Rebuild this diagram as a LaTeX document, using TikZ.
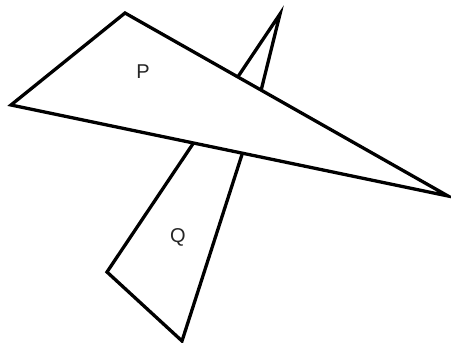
\documentclass[tikz,border=0pt]{standalone}
\usepackage{fontspec}
\setmainfont{Liberation Sans}
\usepackage{tikz}
\begin{document}
\begin{tikzpicture}[x=1pt,y=-1pt,every node/.style={font=\fontsize{20}{20}\selectfont},
  fig/.style={draw=black,line width=3.3pt,fill=white},
  lbl/.style={inner sep=0pt,text=black!85}]
\useasboundingbox (0,0) rectangle (451,343);
% quadrilateral Q, partly hidden behind P
\coordinate (q0) at (280,14);
\coordinate (q1) at (107,272);
\coordinate (q2) at (182,341);
\coordinate (q3) at (256,111);
\draw[fig] (q0) -- (q1) -- (q2) -- (q3) -- cycle;
% triangle P on top
\coordinate (p0) at (125,13);
\coordinate (p1) at (11,105);
\coordinate (p2) at (448,196);
\draw[fig] (p0) -- (p1) -- (p2) -- cycle;
\node[lbl] (P) at (143,72) {P};
\node[lbl] (Q) at (178,237) {Q};
\end{tikzpicture}
\end{document}
